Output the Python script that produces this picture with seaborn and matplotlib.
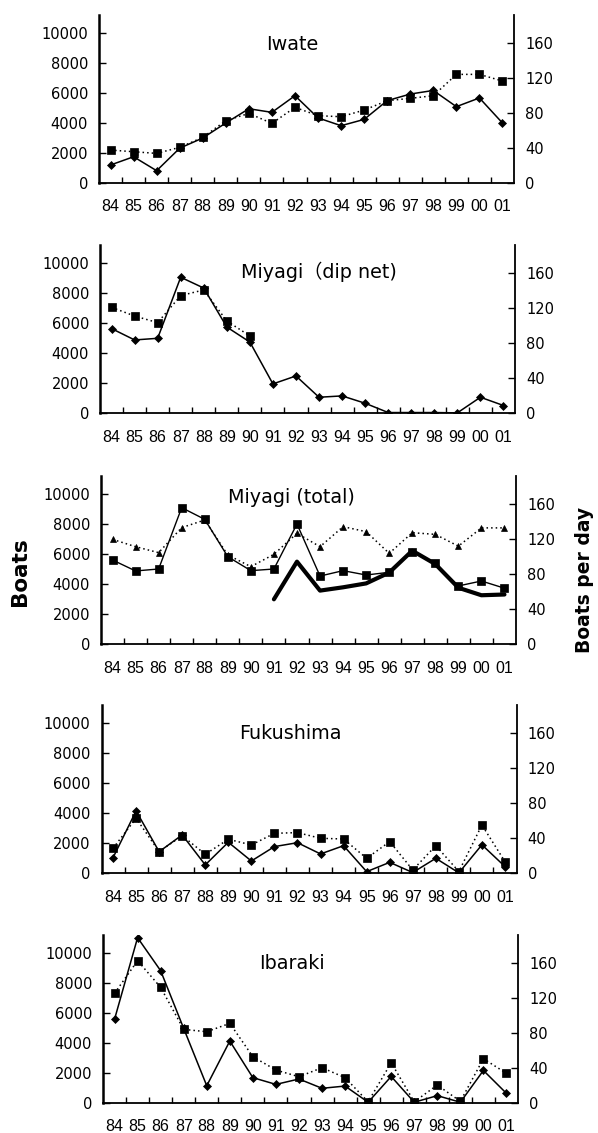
import matplotlib
matplotlib.use("Agg")
import matplotlib.pyplot as plt
import seaborn as sns
import numpy as np
from matplotlib import font_manager

# ---------------- data ----------------
years = ["84", "85", "86", "87", "88", "89", "90", "91", "92", "93",
         "94", "95", "96", "97", "98", "99", "00", "01"]

iwate_boats = [1180, 1730, 800, 2300, 2980, 3980, 4930, 4690, 5800, 4320,
               3800, 4220, 5470, 5910, 6150, 5070, 5650, 3980]
iwate_bpd = [37.3, 35.4, 33.5, 40.4, 51.8, 70.9, 79.2, 67.8, 86.1, 76.6,
             75.4, 83.0, 93.7, 96.4, 99.4, 123.8, 123.8, 116.2]

miyagi_dip_boats = [5650, 4890, 5000, 9070, 8350, 5750, 4750, 1960, 2490, 1070,
                    1160, 670, 50, 50, 50, 30, 1070, 520]
miyagi_dip_years = ["84", "85", "86", "87", "88", "89", "90"]
miyagi_dip_bpd = [121.1, 111.2, 103.6, 134.5, 141.0, 105.5, 88.4]

miyagi_total_boats = [5600, 4870, 5000, 9090, 8310, 5820, 4890, 5000, 8000, 4530,
                      4890, 4600, 4780, 6160, 5380, 3870, 4200, 3720]
miyagi_total_bpd = [119.6, 111.2, 104.4, 133.0, 141.7, 101.7, 88.4, 102.5, 126.5, 111.2,
                    134.1, 128.4, 103.6, 127.2, 125.3, 111.8, 132.7, 132.7]
miyagi_thick_years = ["91", "92", "93", "94", "95", "96", "97", "98", "99", "00", "01"]
miyagi_thick = [2980, 5490, 3560, 3780, 4040, 4760, 6220, 5330, 3750, 3250, 3300]

fukushima_boats = [1040, 4160, 1440, 2560, 560, 2070, 820, 1780, 2040, 1290,
                   1840, 110, 730, 50, 1000, 30, 1900, 450]
fukushima_bpd = [28.6, 62.9, 24.8, 43.0, 21.7, 38.9, 32.4, 45.7, 46.5, 40.0,
                 39.2, 17.1, 36.2, 3.8, 31.6, 2.0, 55.2, 13.3]

ibaraki_boats = [5560, 11000, 8800, 4950, 1130, 4110, 1670, 1220, 1580, 960,
                 1110, 30, 1750, 30, 470, 30, 2150, 620]
ibaraki_bpd = [125.0, 162.3, 131.8, 83.8, 81.1, 90.7, 52.6, 37.3, 29.7, 40.0,
               28.6, 1.0, 45.7, 1.0, 20.2, 1.5, 50.3, 33.5]

titles = ["Iwate", "Miyagi\uff08dip net)", "Miyagi (total)", "Fukushima", "Ibaraki"]
left_ticks = [0, 2000, 4000, 6000, 8000, 10000]
right_ticks = [0, 40, 80, 120, 160]

# ---------------- style ----------------
sns.set_theme(style="white")
plt.rcParams["font.family"] = ["DejaVu Sans", "Noto Sans CJK JP"]
names = {f.name for f in font_manager.fontManager.ttflist}
xfont = "Liberation Sans Narrow" if "Liberation Sans Narrow" in names else "Liberation Sans"

W, H = 598, 1133
fig = plt.figure(figsize=(W / 100, H / 100), dpi=100)
fig.patch.set_facecolor("white")

pos = {i: y for i, y in enumerate(years)}
xidx = lambda ys: [years.index(y) for y in ys]

# panel geometry in pixels: (left, bottom)
geo = [(99, 182.7), (100, 413.3), (101, 644), (101.5, 873.3), (103, 1102.7)]
PW, PH = 415, 168
title_pos = [(0.465, 0.79), (0.528, 0.804), (0.46, 0.837), (0.456, 0.798), (0.455, 0.794)]

SQ = dict(marker="s", markersize=5.2)
DI = dict(marker="D", markersize=3.6)
TR = dict(marker="^", markersize=4.6)
DOT = (0, (1, 2))


def line(ax, xs, ys, ls, lw, mk):
    kw = dict(color="black", linestyle=ls, linewidth=lw, legend=False,
              estimator=None, sort=False)
    if mk:
        kw.update(mk)
        kw.update(markeredgecolor="black", markerfacecolor="black", markeredgewidth=0.5)
    sns.lineplot(x=xs, y=ys, ax=ax, **kw)


panels = [
    [(years, iwate_bpd, "R", DOT, 1.1, SQ), (years, iwate_boats, "L", "-", 1.1, DI)],
    [(miyagi_dip_years, miyagi_dip_bpd, "R", DOT, 1.1, SQ), (years, miyagi_dip_boats, "L", "-", 1.1, DI)],
    [(years, miyagi_total_bpd, "R", DOT, 1.1, TR), (years, miyagi_total_boats, "L", "-", 1.0, SQ),
     (miyagi_thick_years, miyagi_thick, "L", "-", 3.0, None)],
    [(years, fukushima_bpd, "R", DOT, 1.1, SQ), (years, fukushima_boats, "L", "-", 1.1, DI)],
    [(years, ibaraki_bpd, "R", DOT, 1.1, SQ), (years, ibaraki_boats, "L", "-", 1.1, DI)],
]

for i, (series, (lx, by)) in enumerate(zip(panels, geo)):
    ax = fig.add_axes([lx / W, 1 - by / H, PW / W, PH / H])
    ax2 = ax.twinx()
    ax.set_facecolor("none")
    for (ys_, vals, side, ls, lw, mk) in series:
        target = ax if side == "L" else ax2
        line(target, xidx(ys_), vals, ls, lw, mk)

    ax.set_xlim(-0.5, len(years) - 0.5)
    ax.set_ylim(0, 11200)
    ax2.set_ylim(0, 192)
    ax.set_yticks(left_ticks)
    ax.set_yticklabels([str(t) for t in left_ticks])
    ax2.set_yticks(right_ticks)
    ax2.set_yticklabels([str(t) for t in right_ticks])
    ax.set_xticks(range(len(years)))
    ax.set_xticklabels(years, fontfamily=xfont, fontsize=11.5)
    ax.set_xticks(np.arange(0.5, len(years) - 1, 1.0), minor=True)
    ax.tick_params(axis="x", which="major", length=0, pad=12, colors="black")
    ax.tick_params(axis="x", which="minor", direction="in", length=4, width=1, color="black", bottom=True)
    ax.tick_params(axis="y", direction="in", length=5, width=1, labelsize=10.5, pad=8,
                   colors="black", left=True)
    ax2.tick_params(axis="y", direction="in", length=5, width=1, labelsize=10.5, pad=8,
                    colors="black", right=True)
    ax.set_xlabel("")
    ax.set_ylabel("")
    ax2.set_ylabel("")

    for a in (ax, ax2):
        a.spines["top"].set_visible(False)
        a.grid(False)
    ax.spines["right"].set_visible(False)
    ax2.spines["left"].set_visible(False)
    ax2.spines["bottom"].set_visible(False)
    ax.spines["left"].set_linewidth(1.8)
    ax.spines["left"].set_color("black")
    ax.spines["bottom"].set_linewidth(1.3)
    ax.spines["bottom"].set_color("black")
    ax2.spines["right"].set_linewidth(1.3)
    ax2.spines["right"].set_color("black")

    tx, ty = title_pos[i]
    ax2.text(tx, ty, titles[i], transform=ax2.transAxes, ha="center", va="baseline",
             fontsize=13.8, color="black")

fig.text(20 / W, 1 - 572 / H, "Boats", rotation=90, ha="center", va="center",
         fontsize=15.5, fontweight="bold", color="black")
fig.text(584 / W, 1 - 580 / H, "Boats per day", rotation=90, ha="center", va="center",
         fontsize=13.5, fontweight="bold", color="black")

fig.savefig("out.png", dpi=100, facecolor="white")
